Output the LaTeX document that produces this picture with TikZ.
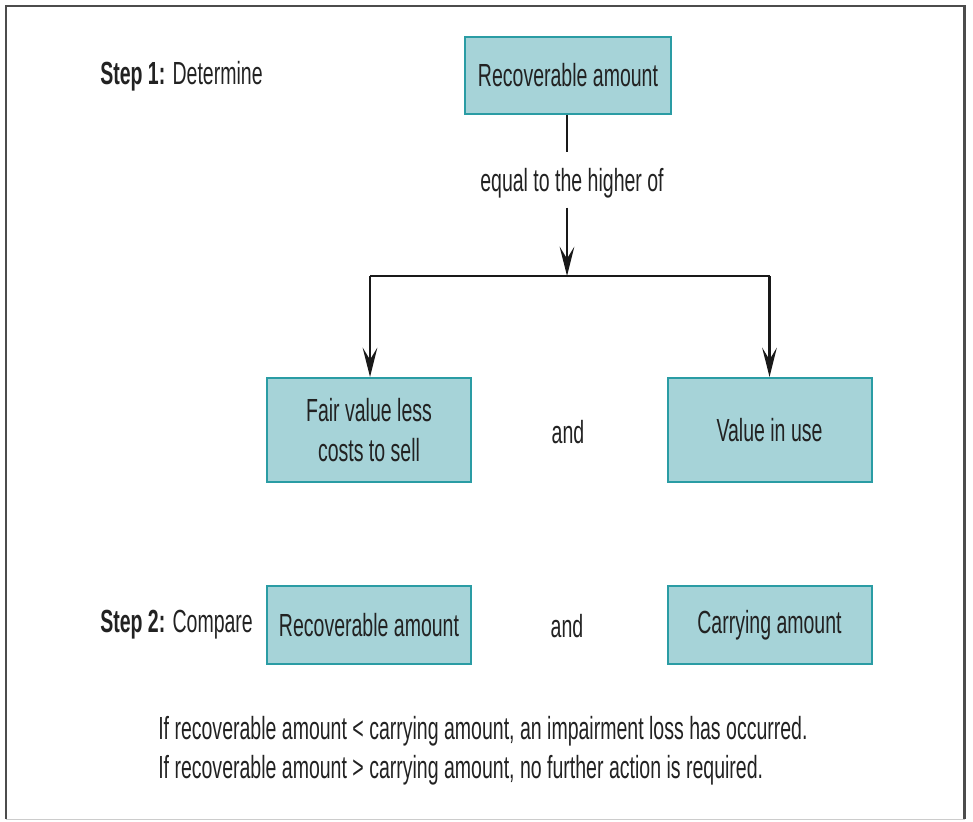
\documentclass[tikz,border=0pt]{standalone}
\usepackage{fontspec}
\setmainfont[FakeStretch=0.61]{Liberation Sans}
\usetikzlibrary{arrows.meta}
\definecolor{boxfill}{HTML}{A6D3D8}
\definecolor{boxline}{HTML}{2A9CA4}
\definecolor{txt}{HTML}{222222}
\tikzset{
  box/.style={draw=boxline, fill=boxfill, line width=1.5pt, align=center, inner sep=0pt, text=txt},
  lbl/.style={inner sep=0pt, text=txt, align=left},
  conn/.style={line width=1.9pt, draw=black!90},
  arr/.style={conn, -{Stealth[length=22pt, width=11pt, inset=9pt]}},
}
\begin{document}
\begin{tikzpicture}[x=0.75pt, y=-0.75pt, font=\fontsize{24}{29.5}\selectfont]
\useasboundingbox (0,0) rectangle (973,821);
% frame
\draw[line width=2pt, draw=black!70] (6,819) -- (6,6) -- (964.5,6) -- (964.5,819);
\draw[line width=1.2pt, draw=black!20] (6,819.5) -- (964.5,819.5);

\node[box, minimum width=154.5pt, minimum height=57.75pt] (ra1) at (568,75) {Recoverable amount};
\node[lbl] (eq) at (572,183) {equal to the higher of};
\coordinate (j) at (567,276);
\coordinate (jl) at (370,276);
\coordinate (jr) at (769.5,276);

\node[box, minimum width=153pt, minimum height=78pt] (fv) at (369,430) {Fair value less\\costs to sell};
\node[box, minimum width=153pt, minimum height=78pt] (viu) at (769.5,430) {Value in use};
\node[lbl] (and1) at (568,432) {and};

\node[box, minimum width=153pt, minimum height=58.5pt] (ra2) at (369,625) {Recoverable amount};
\node[box, minimum width=153pt, minimum height=58.5pt] (ca) at (769.5,625) {Carrying amount};
\node[lbl] (and2) at (567,626) {and};

\node[lbl, anchor=west] (s1) at (100,76) {\textbf{Step 1:} Determine};
\node[lbl, anchor=west] (s2) at (100,625) {\textbf{Step 2:} Compare};

\node[lbl, anchor=north west] (note) at (158,716) {If recoverable amount < carrying amount, an impairment loss has occurred.\\If recoverable amount > carrying amount, no further action is required.};

\draw[conn] (ra1.south -| j) -- ([yshift=12pt]eq.north -| j);
\draw[arr] ([yshift=-7pt]eq.south -| j) -- (j);
\draw[conn] (jl) -- (jr);
\draw[arr] (jl) -- (fv.north -| jl);
\draw[arr] (jr) -- (viu.north -| jr);
\end{tikzpicture}
\end{document}
